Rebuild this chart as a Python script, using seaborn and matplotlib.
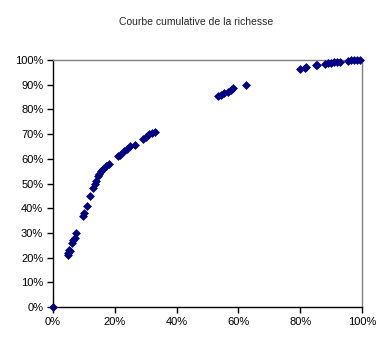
import matplotlib
matplotlib.use("Agg")
import matplotlib.pyplot as plt
import seaborn as sns
import pandas as pd
from matplotlib.ticker import FuncFormatter, MultipleLocator

# Cumulative share of population (x) vs cumulative share of wealth (y), in %
pop_share = [0, 4.8, 5.0, 5.2, 5.5, 6.2, 6.6, 7.0, 7.6, 9.6, 10.0, 11.0, 12.0,
             13.0, 13.6, 14.0, 14.6, 15.0, 15.6, 16.2, 17.0, 18.0, 21.0, 21.6,
             23.0, 24.0, 25.0, 26.5, 29.0, 30.0, 31.0, 32.0, 33.0,
             53.4, 54.5, 55.5, 56.5, 57.5, 58.3, 62.3,
             80.0, 81.5, 82.0, 85.0, 85.5, 88.0, 89.0, 90.0, 91.0, 92.0,
             93.0, 95.5, 96.5, 97.5, 98.5, 99.4]
wealth_share = [0, 21.0, 22.0, 23.0, 22.5, 26.0, 27.0, 28.0, 30.0, 37.0, 38.0,
                41.0, 45.0, 48.0, 50.0, 51.0, 53.0, 54.0, 55.0, 56.0, 57.0, 58.0,
                61.0, 61.5, 63.0, 64.0, 65.0, 65.5, 68.0, 69.0, 70.0, 70.5, 71.0,
                85.5, 86.0, 86.5, 87.0, 88.0, 88.7, 90.0,
                96.3, 96.8, 97.2, 97.8, 98.0, 98.4, 98.6, 98.8, 99.0, 99.1,
                99.3, 99.6, 99.8, 99.9, 100.0, 100.0]

df = pd.DataFrame({"pop": pop_share, "wealth": wealth_share})

sns.set_style("white")
plt.rcParams["font.family"] = ["Liberation Sans", "DejaVu Sans"]

fig = plt.figure(figsize=(3.92, 3.49), dpi=100)
ax = fig.add_axes([53 / 392, 1 - 307 / 349, (362 - 53) / 392, (307 - 60) / 349])

sns.scatterplot(data=df, x="pop", y="wealth", marker="D", s=16,
                color="#000080", edgecolor="#000080", linewidth=0.5,
                ax=ax, clip_on=False, zorder=3)

ax.set_xlim(0, 100)
ax.set_ylim(0, 100)
ax.xaxis.set_major_locator(MultipleLocator(20))
ax.yaxis.set_major_locator(MultipleLocator(10))
pct = FuncFormatter(lambda v, _: f"{v:.0f}%")
ax.xaxis.set_major_formatter(pct)
ax.yaxis.set_major_formatter(pct)
ax.set_xlabel("")
ax.set_ylabel("")

for side in ("left", "bottom"):
    ax.spines[side].set_color("black")
    ax.spines[side].set_linewidth(1.0)
for side in ("top", "right"):
    ax.spines[side].set_color("#808080")
    ax.spines[side].set_linewidth(1.0)

ax.tick_params(axis="both", direction="out", length=4, width=1.0,
               color="black", labelsize=8, labelcolor="black",
               left=True, bottom=True, pad=3)

fig.suptitle("Courbe cumulative de la richesse", fontsize=7.5, y=1 - 22 / 349,
             va="center")

fig.savefig("out.png", dpi=100, facecolor="white")
